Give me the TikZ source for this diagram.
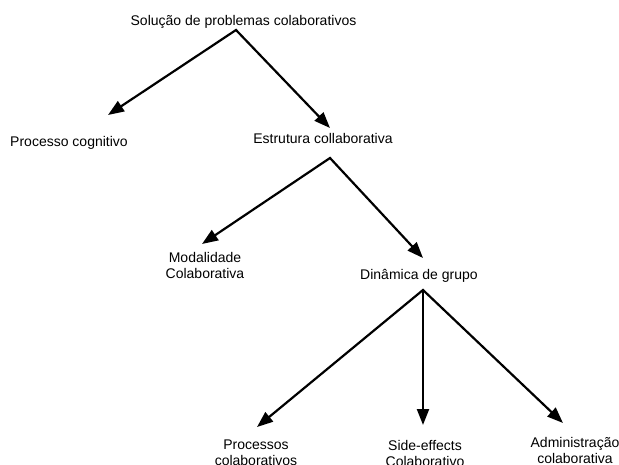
\documentclass[tikz,border=0pt]{standalone}
\usepackage{fontspec}
\setmainfont{Liberation Sans}
\usetikzlibrary{arrows.meta}
\begin{document}
\begin{tikzpicture}[x=1pt,y=-1pt,
  label/.style={inner sep=0pt,anchor=base,align=center,
    font=\fontsize{14pt}{16pt}\selectfont},
  head/.style={Triangle[length=16pt,width=12pt]},
  branch/.style={line width=2.2pt,-{Triangle[length=16pt,width=12pt]}},
  fork/.style={line width=2.2pt,{Triangle[length=16pt,width=12pt]}-{Triangle[length=16pt,width=12pt]}}]
\useasboundingbox[fill=white] (0,0) rectangle (619,464);

% labels (two-line labels are placed by the baseline of their last line)
\node[label] (root) at (243.5,25) {Solução de problemas colaborativos};
\node[label] (cog)  at (69,146)   {Processo cognitivo};
\node[label] (estr) at (323,143)  {Estrutura collaborativa};
\node[label] (moda) at (205,278)  {Modalidade\\Colaborativa};
\node[label] (dina) at (419,279)  {Dinâmica de grupo};
\node[label] (proc) at (256,465)  {Processos\\colaborativos};
\node[label] (side) at (425,466)  {Side-effects\\Colaborativo};
\node[label] (admn) at (575,463)  {Administração\\colaborativa};

% branching points and arrow tips
\coordinate (a1) at (236,30);
\coordinate (a2) at (330,158);
\coordinate (a3) at (423,290);
\coordinate (t1) at (108,115);
\coordinate (t2) at (330,128);
\coordinate (t3) at (202,244);
\coordinate (t4) at (423,258);
\coordinate (t5) at (257,427);
\coordinate (t6) at (423,425);
\coordinate (t7) at (563,423);

% connectors
\draw[fork] (t1) -- (a1) -- (t2);
\draw[fork] (t3) -- (a2) -- (t4);
\draw[fork] (t5) -- (a3) -- (t7);
\draw[branch] (a3) -- (t6);
\end{tikzpicture}
\end{document}
